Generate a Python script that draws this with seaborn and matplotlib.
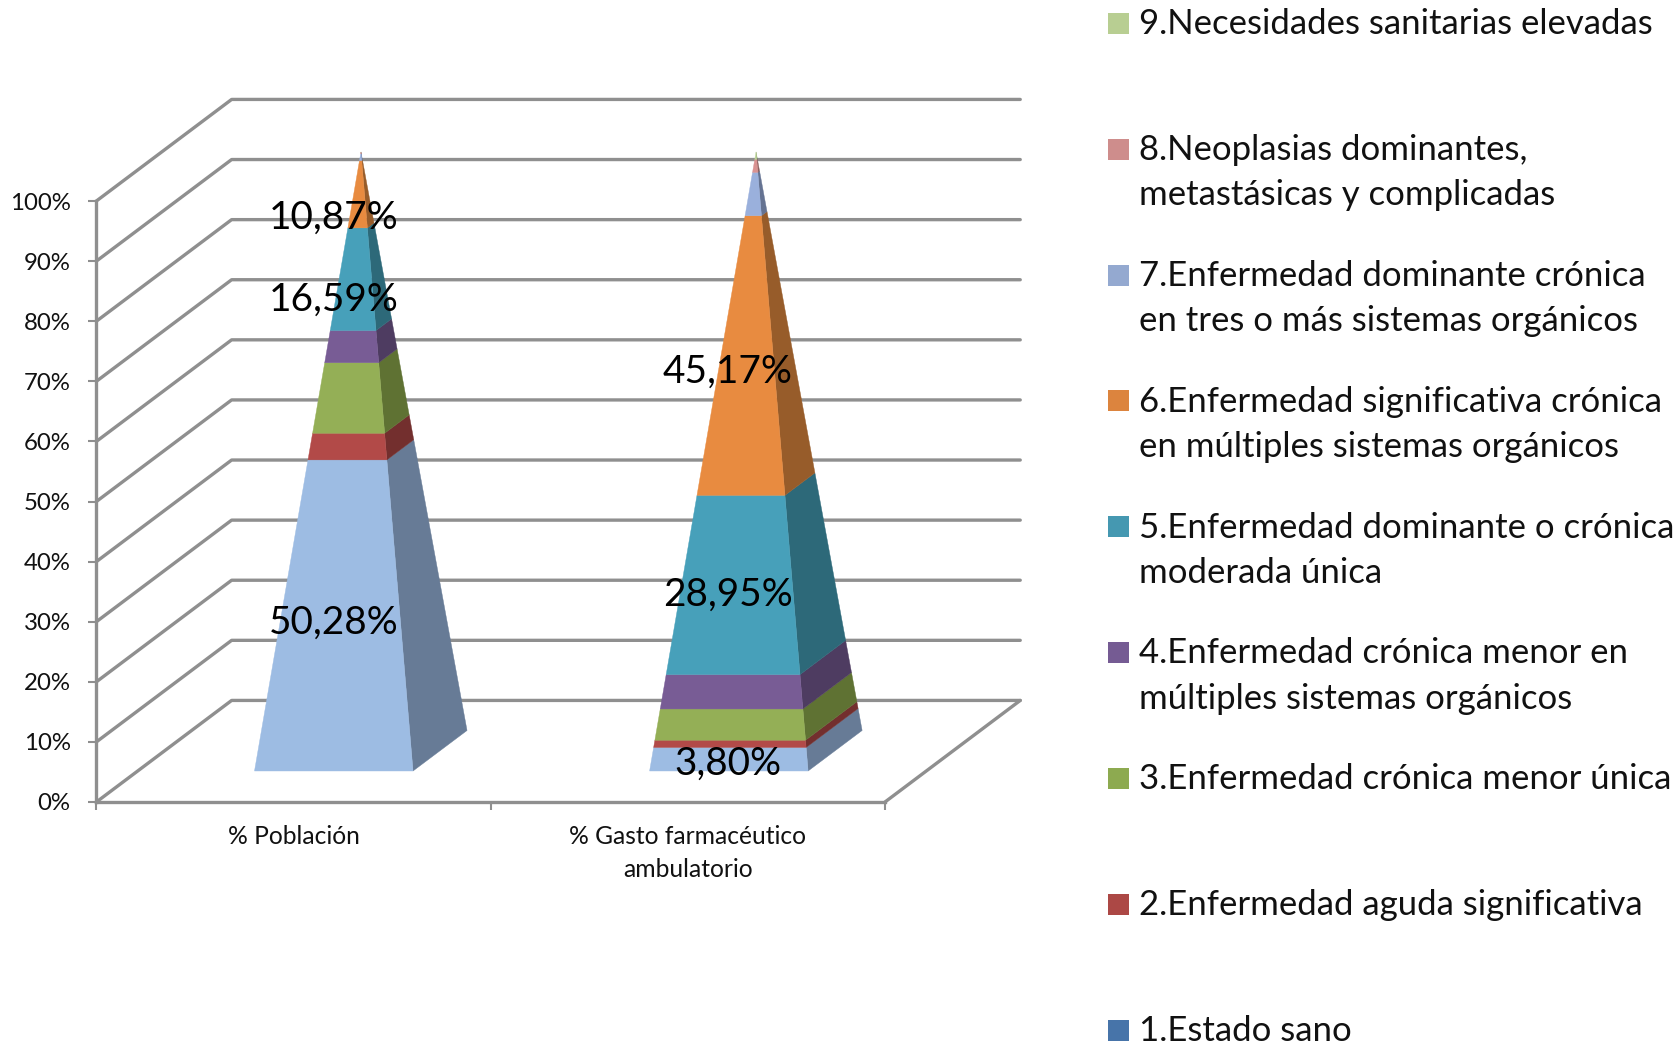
"""Piramides apiladas 100%: poblacion y gasto farmaceutico por grupo de morbilidad."""

import numpy as np
import pandas as pd
import matplotlib.pyplot as plt
import seaborn as sns

W, H = 1677, 1043

# ------------------------------------------------------------------
# Data
# ------------------------------------------------------------------
categories = ["% Población", "% Gasto farmacéutico\nambulatorio"]
groups = [
    "1.Estado sano",
    "2.Enfermedad aguda significativa",
    "3.Enfermedad crónica menor única",
    "4.Enfermedad crónica menor en\nmúltiples sistemas orgánicos",
    "5.Enfermedad dominante o crónica\nmoderada única",
    "6.Enfermedad significativa crónica\nen múltiples sistemas orgánicos",
    "7.Enfermedad dominante crónica\nen tres o más sistemas orgánicos",
    "8.Neoplasias dominantes,\nmetastásicas y complicadas",
    "9.Necesidades sanitarias elevadas",
]
poblacion = [50.28, 4.3, 11.4, 5.2, 16.59, 10.87, 1.1, 0.25, 0.05]
gasto = [3.80, 1.17, 5.05, 5.55, 28.95, 45.17, 7.0, 2.1, 1.2]
y_ticks = [0, 10, 20, 30, 40, 50, 60, 70, 80, 90, 100]

# only these segments carry a label in the chart: (category, group, text)
label_cat = [0, 0, 0, 1, 1, 1]
label_text = ["50,28%", "16,59%", "10,87%", "3,80%", "28,95%", "45,17%"]

# ------------------------------------------------------------------
# Style
# ------------------------------------------------------------------
legend_colors = ["#4774A9", "#AC4845", "#8DAA50", "#755B93", "#4598B1",
                 "#DC843E", "#94A9D0", "#CE8D8C", "#B8CE92"]
front_colors = ["#9DBCE3", "#B24A48", "#94AF56", "#785C95", "#47A0BA",
                "#E88B40", "#9AB0DC", "#D99291", "#BCD597"]
side_colors = ["#677B96", "#732F2E", "#5F7233", "#4E3C61", "#2D6979",
               "#975C2A", "#657392", "#8C5F5E", "#7C8C63"]
GRID = "#8F8F8F"
TEXT = "#111111"

sns.set_theme(style="white")
plt.rcParams["font.family"] = ["Lato", "DejaVu Sans"]

# oblique projection in data units (1 category wide, y in percent)
DEPTH_X = 0.343
DEPTH_Y = 16.9
BASE_LEFT = [0.401, 1.403]
BASE_WIDTH = 0.402
APEX_DX = 0.270
BACK_DX = 0.137
BACK_DY = 6.74
LIFT = 5.16
HEIGHT = 103.0

fig = plt.figure(figsize=(W / 100, H / 100), dpi=100, facecolor="white")

# axes box = front plane of the 3D chart, everything else hangs outside it
ax = fig.add_axes([96.4 / W, 1 - 802 / H, (885 - 96.4) / W, (802 - 201) / H])

# ------------------------------------------------------------------
# Walls and floor
# ------------------------------------------------------------------
rows = []
for tick in y_ticks:
    rows.append({"x": 0, "y": tick, "level": tick})
    rows.append({"x": DEPTH_X, "y": tick + DEPTH_Y, "level": tick})
    rows.append({"x": 2 + DEPTH_X, "y": tick + DEPTH_Y, "level": tick})
rows.append({"x": 2, "y": 0, "level": -1})
rows.append({"x": 2 + DEPTH_X, "y": DEPTH_Y, "level": -1})
grid_df = pd.DataFrame(rows)

sns.lineplot(data=grid_df, x="x", y="y", units="level", estimator=None, sort=False,
             color=GRID, linewidth=2.4, ax=ax, legend=False)
for line in ax.get_lines():
    line.set_clip_on(False)
    line.set_solid_capstyle("round")


# ------------------------------------------------------------------
# Pyramids
# ------------------------------------------------------------------
def draw_pyramid(left, values):
    shares = np.cumsum(values) / np.sum(values)
    edges = np.concatenate([[0], shares])

    fl = np.array([left, LIFT])
    fr = np.array([left + BASE_WIDTH, LIFT])
    br = np.array([left + BASE_WIDTH + BACK_DX, LIFT + BACK_DY])
    apex = np.array([left + APEX_DX, LIFT + HEIGHT])

    for i in range(len(values)):
        t0, t1 = edges[i], edges[i + 1]
        p = lambda a, t: a + t * (apex - a)
        side = np.array([p(fr, t0), p(br, t0), p(br, t1), p(fr, t1)])
        front = np.array([p(fl, t0), p(fr, t0), p(fr, t1), p(fl, t1)])
        ax.fill(side[:, 0], side[:, 1], color=side_colors[i], lw=0.3, clip_on=False, zorder=3)
        ax.fill(front[:, 0], front[:, 1], color=front_colors[i], lw=0.3, clip_on=False, zorder=4)


draw_pyramid(BASE_LEFT[0], poblacion)
draw_pyramid(BASE_LEFT[1], gasto)

# data labels
label_x = [0.602, 0.602, 0.602, 1.601, 1.601, 1.601]
label_y = [29.8, 83.5, 97.2, 6.4, 34.5, 71.6]
for cat, txt, lx, ly in zip(label_cat, label_text, label_x, label_y):
    ax.text(lx, ly, txt, ha="center", va="center", fontsize=27.9, color="black",
            zorder=6, clip_on=False)

# ------------------------------------------------------------------
# Axes
# ------------------------------------------------------------------
ax.set_xlim(0, 2)
ax.set_ylim(0, 100)
ax.set_xlabel("")
ax.set_ylabel("")
ax.set_xticks([0, 1, 2])
ax.set_xticklabels([])
ax.set_xticks([0.5, 1.5], minor=True)
ax.set_xticklabels(categories, minor=True, fontsize=17.7, color=TEXT, linespacing=1.52)
ax.set_yticks(y_ticks)
ax.set_yticklabels([f"{t}%" for t in y_ticks], fontsize=17.3, color=TEXT)
ax.tick_params(axis="x", which="major", bottom=True, length=6, width=1.5, color=GRID)
ax.tick_params(axis="x", which="minor", bottom=True, length=0, pad=16.5)
ax.tick_params(axis="y", left=True, length=6, width=1.5, color=GRID, pad=12.5)
ax.patch.set_visible(False)
sns.despine(ax=ax)
for name in ["left", "bottom"]:
    ax.spines[name].set_color(GRID)
    ax.spines[name].set_linewidth(2.4)

# ------------------------------------------------------------------
# Legend, one row every 126 px
# ------------------------------------------------------------------
leg = fig.add_axes([1118.5 / W, 1 - 1030.3 / H, 20.5 / W, (1030.3 - 23.3) / H])
leg_df = pd.DataFrame({"x": 0, "rank": np.arange(1, len(groups) + 1), "group": groups})
sns.scatterplot(data=leg_df, x="x", y="rank", hue="group", palette=legend_colors,
                marker="s", s=228, linewidth=0, legend=False, ax=leg, clip_on=False)
leg.set_xlim(0, 1)
leg.set_ylim(1, 9)
leg.axis("off")
for rank, name in zip(leg_df["rank"], groups):
    leg.annotate(name, (1, rank), xytext=(0, 11), textcoords="offset points",
                 ha="left", va="top", fontsize=25, color=TEXT, linespacing=1.51,
                 annotation_clip=False)

fig.savefig("out.png", dpi=100, facecolor="white")
